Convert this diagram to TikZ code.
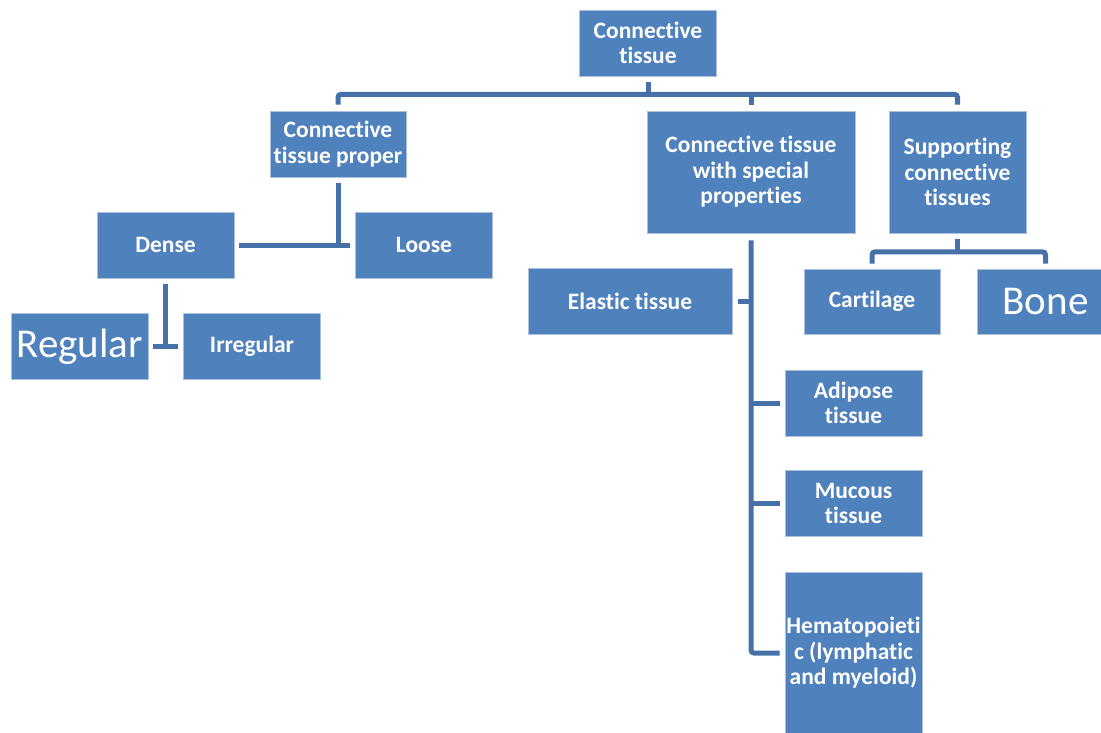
\documentclass[tikz,border=0pt]{standalone}
\usepackage{fontspec}
\setmainfont{Carlito}[Ligatures=NoCommon,RawFeature={-liga;-dlig;-clig}]
\definecolor{boxblue}{HTML}{4F81BD}
\definecolor{boxedge}{HTML}{A9C1DF}
\definecolor{linkblue}{HTML}{4571A8}
\begin{document}
\begin{tikzpicture}[x=1pt,y=-1pt,
  tbox/.style={rectangle, fill=boxblue, draw=boxedge, line width=0.6pt,
    inner sep=0pt, text=white, align=center,
    font=\fontsize{23.5}{25.5}\selectfont\bfseries},
  bigbox/.style={tbox, font=\fontsize{41}{45}\selectfont},
  conn/.style={draw=linkblue, line width=5pt}]
\useasboundingbox (0,0) rectangle (1101,733);
\clip (0,0) rectangle (1101,733);
% boxes: center, size
\node[tbox, minimum width=137pt, minimum height=66pt] (root) at (648,43) {Connective\\tissue};
\node[tbox, minimum width=136pt, minimum height=66pt] (proper) at (338,144) {Connective\\tissue proper};
\node[tbox, minimum width=208pt, minimum height=122pt] (special) at (751,172) {Connective tissue\\with special\\properties};
\node[tbox, minimum width=137pt, minimum height=122pt] (support) at (957.5,172) {Supporting\\connective\\tissues};
\node[tbox, minimum width=137pt, minimum height=66pt] (dense) at (165.5,245) {Dense};
\node[tbox, minimum width=137pt, minimum height=66pt] (loose) at (424,245) {Loose};
\node[bigbox, minimum width=137pt, minimum height=66pt] (regular) at (79.5,346.5) {Regular};
\node[tbox, minimum width=137pt, minimum height=66pt] (irregular) at (252,346.5) {Irregular};
\node[tbox, minimum width=204pt, minimum height=66pt] (elastic) at (630,301) {Elastic tissue};
\node[tbox, minimum width=136pt, minimum height=65pt] (cartilage) at (872,301.5) {Cartilage};
\node[bigbox, minimum width=137pt, minimum height=65pt] (bone) at (1045.5,301.5) {Bone};
\node[tbox, minimum width=137pt, minimum height=66pt] (adipose) at (853.5,403) {Adipose\\tissue};
\node[tbox, minimum width=137pt, minimum height=66pt] (mucous) at (853.5,503.5) {Mucous\\tissue};
\node[tbox, minimum width=137pt, minimum height=162pt] (hemato) at (853.5,653) {Hematopoieti\\c (lymphatic\\and myeloid)};
% connectors
\coordinate (j1) at ([yshift=-18pt]root.south);
\draw[conn] ([yshift=-6pt]root.south) -- (j1);
\draw[conn, rounded corners=3pt] ([yshift=6pt]proper.north) |- (j1) -| ([yshift=6pt]support.north);
\draw[conn] (j1) -| ([yshift=6pt]special.north);
% proper -> dense, loose
\draw[conn] ([xshift=5pt]dense.east) -- ([xshift=-5pt]loose.west);
\draw[conn] ([yshift=-6pt]proper.south) -- (proper.south |- dense.east);
% dense -> regular, irregular
\draw[conn] ([xshift=5pt]regular.east) -- ([xshift=-5pt]irregular.west);
\draw[conn] ([yshift=-6pt]dense.south) -- (dense.south |- regular.east);
% special properties
\draw[conn, rounded corners=3pt] ([yshift=-7pt]special.south) |- ([xshift=-5pt]hemato.west);
\draw[conn] ([xshift=-5pt]adipose.west) -- (adipose.west -| special.south);
\draw[conn] ([xshift=-5pt]mucous.west) -- (mucous.west -| special.south);
\draw[conn] ([xshift=6pt]elastic.east) -- (elastic.east -| special.south);
% supporting
\coordinate (j2) at ([yshift=-18.5pt]support.south);
\draw[conn] ([yshift=-6pt]support.south) -- (j2);
\draw[conn, rounded corners=3pt] ([yshift=5pt]cartilage.north) |- (j2) -| ([yshift=5pt]bone.north);
\end{tikzpicture}
\end{document}
